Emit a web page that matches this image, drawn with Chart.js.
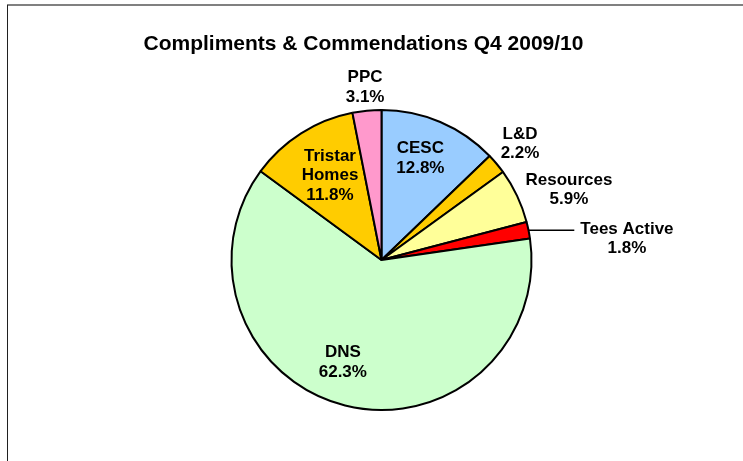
<!DOCTYPE html>
<html>
<head>
<meta charset="utf-8">
<script src="https://cdn.jsdelivr.net/npm/chart.js@4"></script>
<style>
  html, body { margin: 0; padding: 0; background: #ffffff; }
  #wrap { position: relative; width: 743px; height: 461px; }
</style>
</head>
<body>
<div id="wrap"><canvas id="pieChart"></canvas></div>
<script>
// Data
const categories = ['CESC', 'L&D', 'Resources', 'Tees Active', 'DNS', 'Tristar Homes', 'PPC'];
const shares = [12.8, 2.2, 5.9, 1.8, 62.3, 11.8, 3.1];
const sliceColors = ['#99CCFF', '#FFCC00', '#FFFF99', '#FF0000', '#CCFFCC', '#FFCC00', '#FF99CC'];
const chartTitle = 'Compliments & Commendations Q4 2009/10';

// Where each label sits: fraction of the radius and a small angle nudge (degrees)
const labelPlacement = [
    { r: 0.734, shift: -2.4 },
    { r: 1.211, shift: -0.4 },
    { r: 1.338, shift: 4.4 },
    { r: 1.643, shift: 6.2, leader: true },
    { r: 0.721, shift: 6.9 },
    { r: 0.668, shift: 1.5 },
    { r: 1.165, shift: 0.2 }
];
const wrapped = { 'Tristar Homes': ['Tristar', 'Homes'] };

const FONT = '"Liberation Sans", Arial, sans-serif';

// Draws the frame, title and the slice labels
const labelPlugin = {
    id: 'sliceLabels',
    beforeDraw(chart) {
        const ctx = chart.ctx;
        ctx.save();
        ctx.fillStyle = '#ffffff';
        ctx.fillRect(0, 0, chart.width, chart.height);
        // frame lines
        ctx.strokeStyle = '#808080';
        ctx.lineWidth = 2;
        ctx.beginPath();
        ctx.moveTo(7, 5);
        ctx.lineTo(chart.width, 5);
        ctx.stroke();
        ctx.strokeStyle = '#202020';
        ctx.lineWidth = 1;
        ctx.beginPath();
        ctx.moveTo(7.5, 5);
        ctx.lineTo(7.5, chart.height);
        ctx.stroke();
        ctx.restore();
    },
    afterDatasetsDraw(chart) {
        const ctx = chart.ctx;
        const meta = chart.getDatasetMeta(0);
        ctx.save();

        // title
        ctx.fillStyle = '#000000';
        ctx.font = 'bold 21px ' + FONT;
        ctx.textAlign = 'center';
        ctx.textBaseline = 'alphabetic';
        ctx.fillText(chartTitle, 363.5, 50);

        const size = 17;
        const lineH = 19.5;
        const capH = size * 0.716;
        ctx.font = 'bold ' + size + 'px ' + FONT;

        meta.data.forEach((arc, i) => {
            const p = arc.getProps(['x', 'y', 'startAngle', 'endAngle', 'outerRadius'], true);
            const mid = (p.startAngle + p.endAngle) / 2;
            const place = labelPlacement[i];
            const a = mid + place.shift * Math.PI / 180;
            const lx = p.x + Math.cos(a) * p.outerRadius * place.r;
            const ly = p.y + Math.sin(a) * p.outerRadius * place.r;

            const name = categories[i];
            const lines = (wrapped[name] || [name]).concat([shares[i].toFixed(1) + '%']);
            const top = ly - (lines.length - 1) * lineH / 2;

            if (place.leader) {
                const ex = p.x + Math.cos(mid) * p.outerRadius;
                const ey = p.y + Math.sin(mid) * p.outerRadius;
                const w = Math.max(...lines.map(t => ctx.measureText(t).width));
                ctx.strokeStyle = '#000000';
                ctx.lineWidth = 1.5;
                ctx.beginPath();
                ctx.moveTo(ex, ey);
                ctx.lineTo(lx - w / 2 - 6, ey);
                ctx.stroke();
            }

            ctx.fillStyle = '#000000';
            ctx.textAlign = 'center';
            lines.forEach((t, k) => {
                ctx.fillText(t, lx, top + k * lineH + capH / 2);
            });
        });
        ctx.restore();
    }
};

const ctx = document.getElementById('pieChart').getContext('2d');
const chart = new Chart(ctx, {
    type: 'pie',
    data: {
        labels: categories,
        datasets: [{
            data: shares,
            backgroundColor: sliceColors,
            borderColor: '#000000',
            borderWidth: 2
        }]
    },
    options: {
        responsive: true,
        maintainAspectRatio: false,
        animation: false,
        layout: {
            padding: { left: 230.5, right: 210.5, top: 109, bottom: 50 }
        },
        plugins: {
            legend: { display: false },
            title: { display: false },
            tooltip: { enabled: false }
        }
    },
    plugins: [labelPlugin]
});
</script>
</body>
</html>
